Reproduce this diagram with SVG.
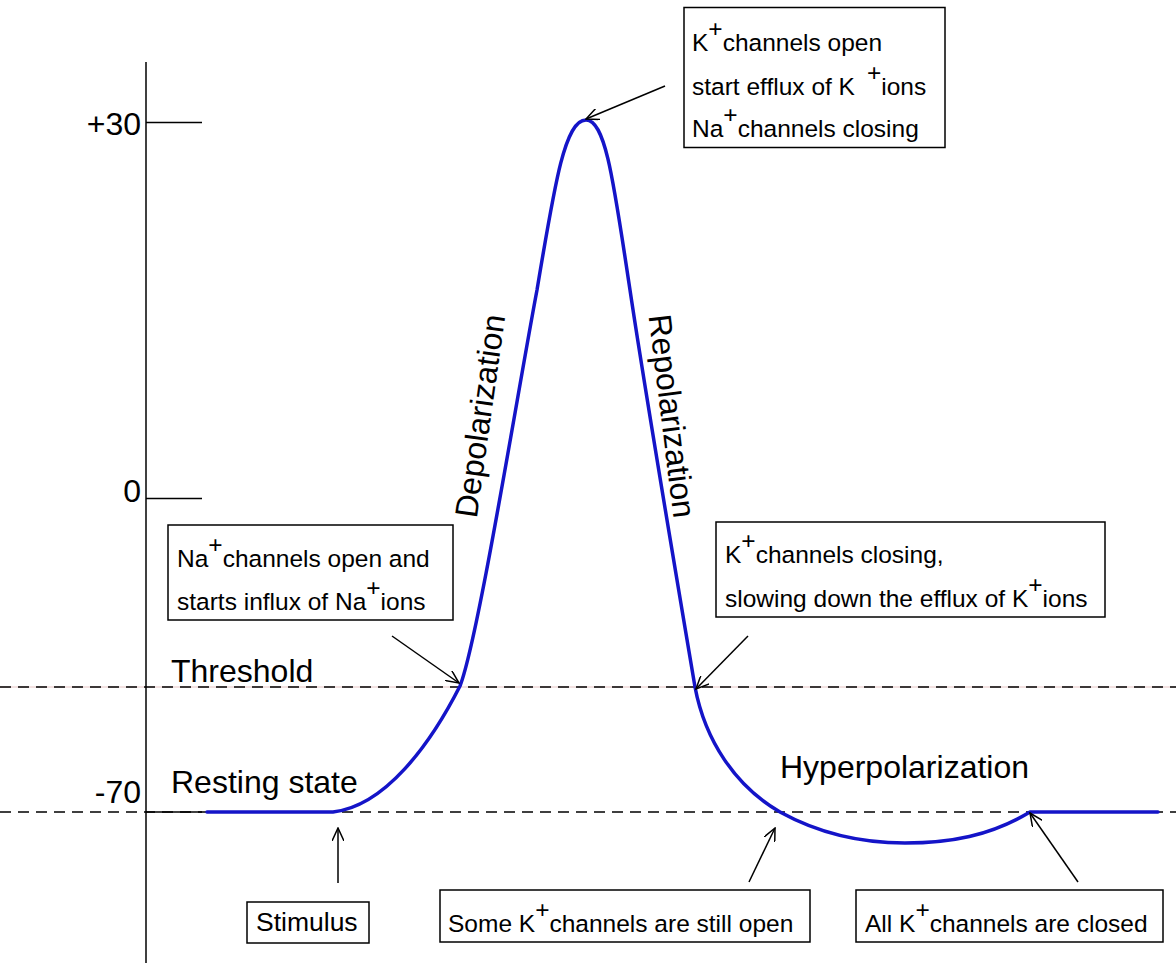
<svg xmlns="http://www.w3.org/2000/svg" width="1176" height="963" viewBox="0 0 1176 963">
<style>
text{font-family:"Liberation Sans",Arial,sans-serif;fill:#000}
.big{font-size:32px}
.box{font-size:24.5px}
.frame{fill:#fff;stroke:#000;stroke-width:1.5}
.axis{stroke:#000;stroke-width:1.5;fill:none}
.dash{stroke:#000;stroke-width:1.5;stroke-dasharray:11 7;fill:none}
.guide{stroke:#e6c4c4;stroke-width:1;fill:none}
.curve{stroke:#1414c8;stroke-width:3.5;fill:none;stroke-linejoin:round;stroke-linecap:round}
.arrow{stroke:#000;stroke-width:1.5;fill:none;marker-end:url(#head)}
</style>
<defs>
<marker id="head" viewBox="0 0 14 12" refX="13" refY="6" markerWidth="14" markerHeight="12" markerUnits="userSpaceOnUse" orient="auto">
<path d="M0,0 L13,6 L0,12" fill="none" stroke="#000" stroke-width="1.5"/>
</marker>
</defs>
<rect width="1176" height="963" fill="#fff"/>

<g id="axes">
<line class="guide" x1="0" y1="687" x2="1176" y2="687"/>
<line class="dash" x1="0" y1="687" x2="1176" y2="687"/>
<line class="dash" x1="0" y1="812" x2="1176" y2="812"/>
<line class="axis" x1="146" y1="62" x2="146" y2="963"/>
<line class="axis" x1="146" y1="122.5" x2="202" y2="122.5"/>
<line class="axis" x1="146" y1="498.5" x2="202" y2="498.5"/>
<line class="axis" x1="146" y1="812" x2="202" y2="812"/>
<text class="big" x="141" y="135" text-anchor="end">+30</text>
<text class="big" x="141" y="502" text-anchor="end">0</text>
<text class="big" x="141" y="803" text-anchor="end">-70</text>
</g>

<g id="curve">
<path class="curve" d="M207,812 L333,812 C385,806 430,745 460,686 C478,640 518,390 537,290 C555,182 565,120 586,120 C606,120 614,185 630,290 C645,390 682,610 695,687 C705,740 735,786 780,812 C820,834 860,843 905,843 C950,843 990,836 1030,812 L1158,812"/>
</g>

<g id="phase-labels">
<text class="big" text-anchor="middle" transform="translate(480,416) rotate(-82)" y="11">Depolarization</text>
<text class="big" text-anchor="middle" transform="translate(672,416) rotate(83)" y="11">Repolarization</text>
<text class="big" x="171" y="682">Threshold</text>
<text class="big" x="171" y="793">Resting state</text>
<text class="big" x="780" y="778">Hyperpolarization</text>
</g>

<g id="connectors">
<line class="arrow" x1="665" y1="86" x2="586" y2="119"/>
<line class="arrow" x1="392" y1="636" x2="459" y2="683"/>
<line class="arrow" x1="748" y1="636" x2="696" y2="689"/>
<line class="arrow" x1="338" y1="883" x2="338" y2="828"/>
<line class="arrow" x1="749" y1="882" x2="775" y2="828"/>
<line class="arrow" x1="1078" y1="882" x2="1030" y2="813"/>
</g>

<g id="box-peak">
<rect class="frame" x="684" y="7.5" width="261" height="140"/>
<text class="box" x="692" y="51">K<tspan dy="-14">+</tspan><tspan dy="14">channels open</tspan></text>
<text class="box" x="692" y="95">start efflux of K<tspan dx="12" dy="-14">+</tspan><tspan dy="14">ions</tspan></text>
<text class="box" x="692" y="137">Na<tspan dy="-14">+</tspan><tspan dy="14">channels closing</tspan></text>
</g>

<g id="box-na-open">
<rect class="frame" x="168" y="525" width="285" height="95"/>
<text class="box" x="177" y="567">Na<tspan dy="-14">+</tspan><tspan dy="14">channels open and</tspan></text>
<text class="box" x="177" y="610">starts influx of Na<tspan dy="-14">+</tspan><tspan dy="14">ions</tspan></text>
</g>

<g id="box-k-closing">
<rect class="frame" x="716" y="522" width="389" height="95"/>
<text class="box" x="725" y="563">K<tspan dy="-14">+</tspan><tspan dy="14">channels closing,</tspan></text>
<text class="box" x="725" y="607">slowing down the efflux of K<tspan dy="-14">+</tspan><tspan dy="14">ions</tspan></text>
</g>

<g id="box-stimulus">
<rect class="frame" x="247" y="902" width="122" height="41"/>
<text class="box" x="256" y="931" style="font-size:26.5px">Stimulus</text>
</g>

<g id="box-some-open">
<rect class="frame" x="440" y="890" width="370" height="52"/>
<text class="box" x="448" y="932">Some K<tspan dy="-14">+</tspan><tspan dy="14">channels are still open</tspan></text>
</g>

<g id="box-all-closed">
<rect class="frame" x="856" y="890" width="307" height="52"/>
<text class="box" x="865" y="932">All K<tspan dy="-14">+</tspan><tspan dy="14">channels are closed</tspan></text>
</g>
</svg>
